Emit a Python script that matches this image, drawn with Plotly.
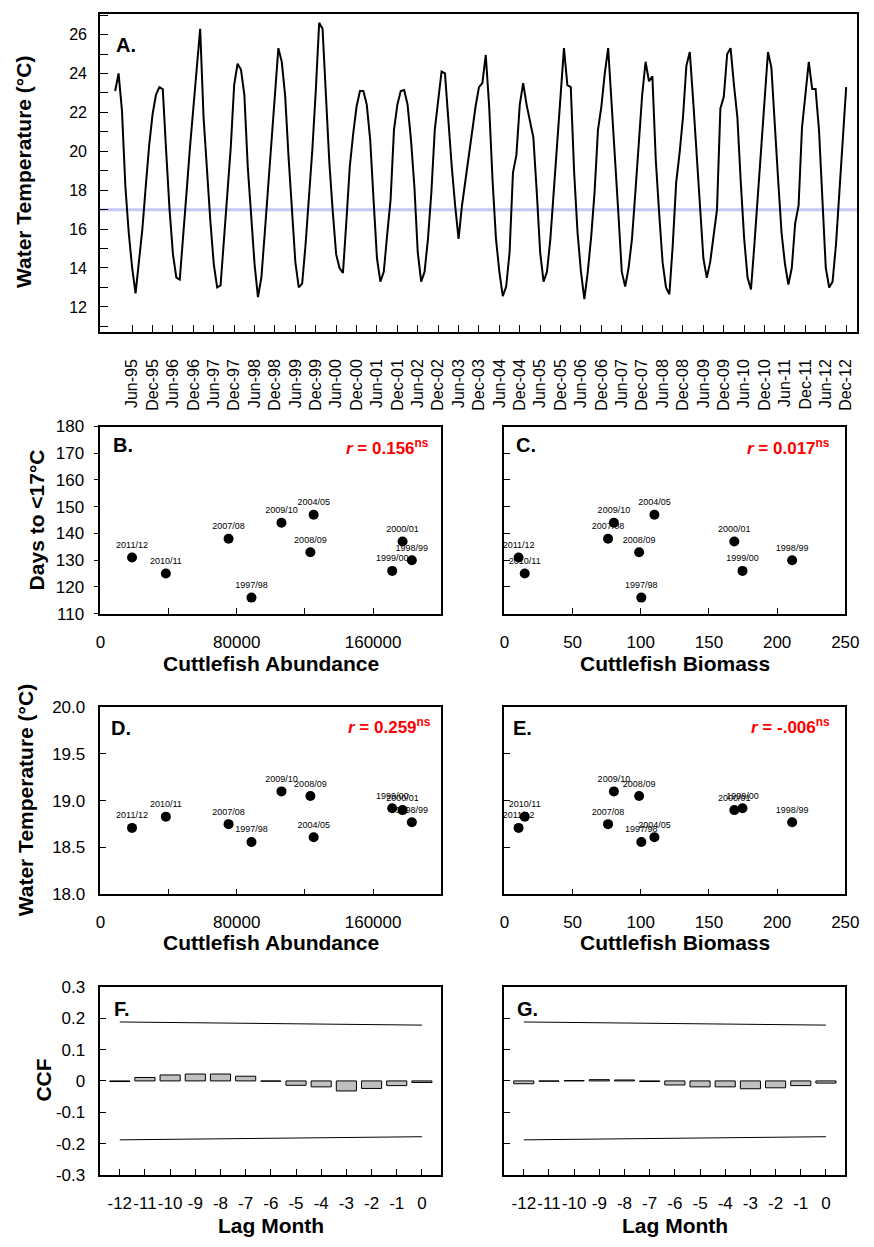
import plotly.graph_objects as go

W, H = 874, 1247
FONT = "Liberation Sans, Arial, Helvetica, sans-serif"

# ---------------- Panel A: monthly water temperature, Jan-1995 .. Dec-2012 ----------------
water_temp = [
    23.1, 24.0, 22.1, 18.2, 15.8, 14.0, 12.7, 14.2, 16.0, 18.2, 20.3, 21.9,   # 1995
    22.9, 23.3, 23.2, 20.0, 17.0, 14.7, 13.5, 13.4, 15.5, 17.9, 20.2, 22.3,   # 1996
    24.3, 26.3, 21.75, 18.9, 16.4, 14.2, 13.0, 13.1, 15.5, 17.9, 20.2, 23.4,  # 1997
    24.5, 24.2, 22.9, 19.2, 16.5, 14.2, 12.5, 13.5, 15.8, 18.2, 20.6, 23.1,   # 1998
    25.3, 24.6, 22.85, 19.7, 16.9, 14.3, 13.0, 13.2, 15.2, 17.5, 20.1, 23.1,  # 1999
    26.6, 26.3, 22.9, 19.4, 16.9, 14.7, 14.0, 13.75, 16.4, 19.2, 20.9, 22.3,  # 2000
    23.1, 23.1, 22.4, 20.6, 17.5, 14.5, 13.3, 13.8, 15.7, 17.5, 21.1, 22.4,   # 2001
    23.1, 23.15, 22.4, 20.6, 18.2, 14.8, 13.3, 13.8, 15.5, 17.9, 21.1, 22.6,  # 2002
    24.1, 24.0, 21.4, 19.2, 17.2, 15.5, 17.2, 18.5, 19.9, 21.2, 22.3, 23.3,   # 2003
    23.5, 24.95, 22.3, 18.5, 15.5, 13.8, 12.55, 13.05, 14.8, 18.9, 19.8, 22.4,  # 2004
    23.5, 22.4, 21.6, 20.7, 17.9, 14.8, 13.3, 13.8, 15.5, 17.9, 20.6, 23.1,   # 2005
    25.3, 23.4, 23.3, 18.9, 15.8, 13.8, 12.4, 13.8, 15.6, 17.9, 21.1, 22.3,   # 2006
    24.0, 25.3, 22.6, 20.1, 16.8, 13.8, 13.05, 14.0, 15.5, 17.9, 20.6, 22.9,  # 2007
    24.6, 23.6, 23.85, 19.55, 16.8, 14.3, 13.0, 12.65, 15.2, 18.4, 19.9, 21.75,  # 2008
    24.4, 25.1, 22.6, 20.1, 17.2, 14.5, 13.5, 14.3, 15.7, 17.0, 22.2, 22.8,   # 2009
    25.0, 25.3, 23.4, 21.75, 18.4, 15.5, 13.5, 12.9, 15.2, 17.7, 20.6, 22.8,  # 2010
    25.1, 24.3, 21.1, 18.5, 15.8, 14.2, 13.15, 14.0, 16.3, 17.2, 21.2, 22.8,  # 2011
    24.6, 23.2, 23.2, 21.1, 17.9, 14.0, 13.0, 13.3, 15.2, 17.9, 20.6, 23.3,   # 2012
]
month_index = list(range(len(water_temp)))
threshold_temp = 17

a_tick_labels = [
    "Jun-95", "Dec-95", "Jun-96", "Dec-96", "Jun-97", "Dec-97", "Jun-98", "Dec-98",
    "Jun-99", "Dec-99", "Jun-00", "Dec-00", "Jun-01", "Dec-01", "Jun-02", "Dec-02",
    "Jun-03", "Dec-03", "Jun-04", "Dec-04", "Jun-05", "Dec-05", "Jun-06", "Dec-06",
    "Jun-07", "Dec-07", "Jun-08", "Dec-08", "Jun-09", "Dec-09", "Jun-10", "Dec-10",
    "Jun-11", "Dec-11", "Jun-12", "Dec-12",
]
a_tick_pos = [5 + 6 * k for k in range(len(a_tick_labels))]
a_y_ticks = [12, 14, 16, 18, 20, 22, 24, 26]

# ---------------- Panels B-E: seasons ----------------
seasons = ["1997/98", "1998/99", "1999/00", "2000/01", "2004/05",
           "2007/08", "2008/09", "2009/10", "2010/11", "2011/12"]
abundance = [88640, 182720, 171200, 177280, 125120, 75200, 123200, 106240, 38400, 18560]
biomass = [100.4, 211.0, 174.6, 168.6, 110.0, 76.0, 98.8, 80.3, 14.9, 10.4]
days_to_17 = [116, 130, 126, 137, 147, 138, 133, 144, 125, 131]
mean_temp = [18.56, 18.77, 18.92, 18.90, 18.61, 18.75, 19.05, 19.10, 18.83, 18.71]
abund_ticks = [0, 80000, 160000]
abund_tick_text = ["0", "80000", "160000"]

r_text = {"B": "0.156", "C": "0.017", "D": "0.259", "E": "-.006"}

# ---------------- Panels F-G: cross correlation ----------------
lags = [-12, -11, -10, -9, -8, -7, -6, -5, -4, -3, -2, -1, 0]
lag_labels = ["-12", "-11", "-10", "-9", "-8", "-7", "-6", "-5", "-4", "-3", "-2", "-1", "0"]
ccf_abundance = [-0.002, 0.011, 0.019, 0.022, 0.022, 0.015, -0.001,
                 -0.014, -0.019, -0.032, -0.024, -0.015, -0.005]
ccf_biomass = [-0.009, -0.001, 0.001, 0.004, 0.003, -0.002, -0.013,
               -0.019, -0.019, -0.025, -0.022, -0.015, -0.007]
ci_lags = [-12, 0]
ci_upper = [0.188, 0.178]
ci_lower = [-0.188, -0.178]

ccf_ticks = [-0.3, -0.2, -0.1, 0, 0.1, 0.2, 0.3]
ccf_tick_text = ["-0.3", "-0.2", "-0.1", "0", "0.1", "0.2", "0.3"]


def dx(a, b):
    return [a / W, b / W]


def dy(top, bottom):
    return [1 - bottom / H, 1 - top / H]


def px(x):
    return x / W


def py(y):
    return 1 - y / H


L0, L1 = 97.5, 446
R0, R1 = 510.5, 859
B_TOP, B_BOT = 424, 614
D_TOP, D_BOT = 709, 899
F_TOP, F_BOT = 993, 1184

fig = go.Figure()

# Panel A
fig.add_trace(go.Scatter(x=month_index, y=water_temp, mode="lines",
                         line=dict(color="black", width=2), xaxis="x", yaxis="y",
                         hoverinfo="skip"))
fig.add_shape(type="line", xref="x domain", yref="y", x0=0, x1=1,
              y0=threshold_temp, y1=threshold_temp,
              line=dict(color="#C8C8F6", width=3), layer="below")

scatter_style = dict(mode="markers+text", textposition="top center",
                     marker=dict(color="black", size=10),
                     textfont=dict(family=FONT, size=9, color="black"),
                     cliponaxis=False, hoverinfo="skip")

fig.add_trace(go.Scatter(x=abundance, y=days_to_17, text=seasons, xaxis="x2", yaxis="y2", **scatter_style))
fig.add_trace(go.Scatter(x=biomass, y=days_to_17, text=seasons, xaxis="x3", yaxis="y3", **scatter_style))
fig.add_trace(go.Scatter(x=abundance, y=mean_temp, text=seasons, xaxis="x4", yaxis="y4", **scatter_style))
fig.add_trace(go.Scatter(x=biomass, y=mean_temp, text=seasons, xaxis="x5", yaxis="y5", **scatter_style))

bar_style = dict(marker=dict(color="#C0C0C0", line=dict(color="black", width=1)), width=0.8,
                 hoverinfo="skip")
for ccf, xa, ya in [(ccf_abundance, "x6", "y6"), (ccf_biomass, "x7", "y7")]:
    fig.add_trace(go.Bar(x=lags, y=ccf, xaxis=xa, yaxis=ya, **bar_style))
    for ci in (ci_upper, ci_lower):
        fig.add_trace(go.Scatter(x=ci_lags, y=ci, mode="lines", line=dict(color="black", width=1),
                                 xaxis=xa, yaxis=ya, hoverinfo="skip"))

base = dict(showline=True, linecolor="black", linewidth=1.5, mirror=True, showgrid=False,
            zeroline=False, ticks="inside", tickcolor="black", ticklen=6, tickwidth=1.2,
            tickfont=dict(family=FONT, size=17, color="black"))


def ax(**kw):
    d = dict(base)
    d.update(kw)
    return d


abund_minor = dict(tickmode="linear", tick0=0, dtick=40000, ticks="inside", ticklen=6,
                   tickwidth=1.2, tickcolor="black", showgrid=False)

fig.update_layout(
    width=W, height=H, margin=dict(l=0, r=0, t=0, b=0),
    paper_bgcolor="white", plot_bgcolor="white", showlegend=False, bargap=0.2,
    font=dict(family=FONT, color="black"),
    xaxis=ax(domain=dx(97, 871), range=[-4.49, 218.2], anchor="y", tickmode="array",
             tickvals=a_tick_pos, ticktext=a_tick_labels, tickangle=-90, ticklen=7,
             tickfont=dict(family=FONT, size=16, color="black"), ticklabelstandoff=19),
    yaxis=ax(domain=dy(5, 328), range=[10.71, 27.06], anchor="x", tickmode="array",
             tickvals=a_y_ticks, ticklen=8,
             minor=dict(tickmode="linear", tick0=11, dtick=1, ticks="inside", ticklen=8,
                        tickwidth=1.2, tickcolor="black", showgrid=False),
             tickfont=dict(family=FONT, size=16, color="black"), ticklabelstandoff=8),
    xaxis2=ax(domain=dx(L0, L1), range=[0, 200000], anchor="y2", tickmode="array",
              tickvals=abund_ticks, ticktext=abund_tick_text, minor=abund_minor,
              ticklabelstandoff=12),
    yaxis2=ax(domain=dy(B_TOP, B_BOT), range=[110, 180], anchor="x2", dtick=10,
              ticks="outside", ticklen=5, ticklabelstandoff=6),
    xaxis3=ax(domain=dx(R0, R1), range=[0, 250], anchor="y3", dtick=50, ticklabelstandoff=12),
    yaxis3=ax(domain=dy(B_TOP, B_BOT), range=[110, 180], anchor="x3", dtick=10,
              showticklabels=False),
    xaxis4=ax(domain=dx(L0, L1), range=[0, 200000], anchor="y4", tickmode="array",
              tickvals=abund_ticks, ticktext=abund_tick_text, minor=abund_minor,
              ticklabelstandoff=12),
    yaxis4=ax(domain=dy(D_TOP, D_BOT), range=[18, 20], anchor="x4", dtick=0.5,
              tickformat=".1f", ticklabelstandoff=10),
    xaxis5=ax(domain=dx(R0, R1), range=[0, 250], anchor="y5", dtick=50, ticklabelstandoff=12),
    yaxis5=ax(domain=dy(D_TOP, D_BOT), range=[18, 20], anchor="x5", dtick=0.5,
              showticklabels=False),
    xaxis6=ax(domain=dx(L0, L1), range=[-12.77, 0.77], anchor="y6", tickmode="array",
              tickvals=lags, ticktext=lag_labels, tickangle=0, ticklabelstandoff=12),
    yaxis6=ax(domain=dy(F_TOP, F_BOT), range=[-0.3, 0.3], anchor="x6", tickmode="array",
              tickvals=ccf_ticks, ticktext=ccf_tick_text, ticklabelstandoff=10),
    xaxis7=ax(domain=dx(R0, R1), range=[-12.77, 0.77], anchor="y7", tickmode="array",
              tickvals=lags, ticktext=lag_labels, tickangle=0, ticklabelstandoff=12),
    yaxis7=ax(domain=dy(F_TOP, F_BOT), range=[-0.3, 0.3], anchor="x7", tickmode="array",
              tickvals=ccf_ticks, ticktext=ccf_tick_text, showticklabels=False),
)

ann = []


def add_text(x, y, text, size, xanchor="center", angle=0, color="black"):
    ann.append(dict(x=px(x), y=py(y), xref="paper", yref="paper", text=text, showarrow=False,
                    xanchor=xanchor, yanchor="middle", textangle=angle,
                    font=dict(family=FONT, size=size, color=color)))


# panel letters
add_text(111, 37, "<b>A.</b>", 20, "left")
add_text(108, 443, "<b>B.</b>", 20, "left")
add_text(520, 443, "<b>C.</b>", 20, "left")
add_text(106, 730, "<b>D.</b>", 20, "left")
add_text(517, 730, "<b>E.</b>", 20, "left")
add_text(109, 1015, "<b>F.</b>", 20, "left")
add_text(521, 1015, "<b>G.</b>", 20, "left")

# correlation coefficients
for key, (x, y) in {"B": (435, 445), "C": (845, 445), "D": (438, 728), "E": (845, 728)}.items():
    add_text(x, y, "<b><i>r</i> = " + r_text[key] + "<sup>ns</sup></b>", 17, "right", color="#FF0000")

# axis titles
add_text(19, 166, "<b>Water Temperature (°C)</b>", 21, angle=-90)
add_text(32, 519, "<b>Days to &lt;17°C</b>", 21, angle=-90)
add_text(21, 804, "<b>Water Temperature (°C)</b>", 21, angle=-90)
add_text(39, 1088, "<b>CCF</b>", 21, angle=-90)
add_text((L0 + L1) / 2, 665, "<b>Cuttlefish Abundance</b>", 21)
add_text((R0 + R1) / 2, 665, "<b>Cuttlefish Biomass</b>", 21)
add_text((L0 + L1) / 2, 948, "<b>Cuttlefish Abundance</b>", 21)
add_text((R0 + R1) / 2, 948, "<b>Cuttlefish Biomass</b>", 21)
add_text((L0 + L1) / 2, 1235, "<b>Lag Month</b>", 21)
add_text((R0 + R1) / 2, 1235, "<b>Lag Month</b>", 21)

fig.update_layout(annotations=ann)
fig.write_html("out.html")
